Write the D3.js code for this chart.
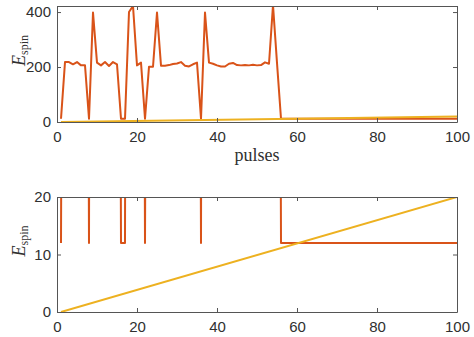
<!DOCTYPE html>
<html>
<head>
<meta charset="utf-8">
<script src="https://cdn.jsdelivr.net/npm/d3@7"></script>
<style>
  html, body { margin: 0; padding: 0; background: #fff; }
  svg { display: block; }
  .tick text { font-family: "Liberation Sans", Arial, sans-serif; font-size: 15px; fill: #303030; }
</style>
</head>
<body>
<div id="chart"></div>
<script>
// pulse numbers 1..100
const pulses = d3.range(1, 101);

// red series: spin energy per pulse
const spinEnergy = [
  12, 218, 218, 210, 218, 206, 206, 12, 398, 216,
  206, 218, 204, 218, 210, 12, 12, 400, 422, 206,
  216, 12, 201, 201, 398, 205, 205, 207, 211, 213,
  218, 205, 202, 210, 216, 12, 398, 216, 212, 206,
  202, 202, 212, 215, 207, 206, 207, 206, 208, 206,
  207, 217, 212, 425, 215, 12, 12, 12, 12, 12,
  12, 12, 12, 12, 12, 12, 12, 12, 12, 12,
  12, 12, 12, 12, 12, 12, 12, 12, 12, 12,
  12, 12, 12, 12, 12, 12, 12, 12, 12, 12,
  12, 12, 12, 12, 12, 12, 12, 12, 12, 12
];

// yellow series: straight line
const rampPulses = [1, 100];
const rampValues = [0, 20];

const xTicks = [0, 20, 40, 60, 80, 100];
const topYTicks = [0, 200, 400];
const bottomYTicks = [0, 10, 20];

const width = 474;
const height = 337;
const red = '#D95319';
const yellow = '#EDB120';
const axisColor = '#555555';

const svg = d3.select('#chart')
  .append('svg')
  .attr('width', width)
  .attr('height', height);

const redData = pulses.map((p, i) => ({x: p, y: spinEnergy[i]}));
const rampData = rampPulses.map((p, i) => ({x: p, y: rampValues[i]}));

function panel(id, box, yDomain, yTicks, showXLabel) {
  const x = d3.scaleLinear().domain([0, 100]).range([box.left, box.right]);
  const y = d3.scaleLinear().domain(yDomain).range([box.bottom, box.top]);

  svg.append('clipPath')
    .attr('id', id)
    .append('rect')
    .attr('x', box.left)
    .attr('y', box.top)
    .attr('width', box.right - box.left)
    .attr('height', box.bottom - box.top);

  const line = d3.line()
    .x(d => x(d.x))
    .y(d => y(d.y));

  const g = svg.append('g').attr('clip-path', 'url(#' + id + ')');
  g.append('path')
    .datum(redData)
    .attr('d', line)
    .attr('fill', 'none')
    .attr('stroke', red)
    .attr('stroke-width', 2)
    .attr('stroke-linejoin', 'round');
  g.append('path')
    .datum(rampData)
    .attr('d', line)
    .attr('fill', 'none')
    .attr('stroke', yellow)
    .attr('stroke-width', 2);

  // axes, ticks pointing inward (box on)
  const bottomAxis = svg.append('g')
    .attr('transform', 'translate(0,' + box.bottom + ')')
    .call(d3.axisBottom(x).tickValues(xTicks).tickSizeInner(-4).tickSizeOuter(0).tickPadding(9));
  const leftAxis = svg.append('g')
    .attr('transform', 'translate(' + box.left + ',0)')
    .call(d3.axisLeft(y).tickValues(yTicks).tickSizeInner(-4).tickSizeOuter(0).tickPadding(6));
  const topAxis = svg.append('g')
    .attr('transform', 'translate(0,' + box.top + ')')
    .call(d3.axisTop(x).tickValues(xTicks).tickSizeInner(-4).tickSizeOuter(0).tickFormat(''));
  const rightAxis = svg.append('g')
    .attr('transform', 'translate(' + box.right + ',0)')
    .call(d3.axisRight(y).tickValues(yTicks).tickSizeInner(-4).tickSizeOuter(0).tickFormat(''));

  [bottomAxis, leftAxis, topAxis, rightAxis].forEach(a => {
    a.selectAll('.domain').attr('stroke', axisColor).attr('stroke-width', 1);
    a.selectAll('.tick line').attr('stroke', axisColor).attr('stroke-width', 1);
  });

  // y label: E_spin
  const cy = (box.top + box.bottom) / 2;
  const lbl = svg.append('text')
    .attr('transform', 'translate(' + 25 + ',' + (cy + 2) + ') rotate(-90)')
    .attr('font-family', '"Liberation Serif", "DejaVu Serif", serif')
    .attr('fill', '#303030');
  lbl.append('tspan')
    .attr('font-style', 'italic')
    .attr('font-size', 18)
    .text('E');
  lbl.append('tspan')
    .attr('font-size', 12)
    .attr('dy', 3)
    .text('spin');

  if (showXLabel) {
    svg.append('text')
      .attr('x', (box.left + box.right) / 2)
      .attr('y', box.bottom + 39)
      .attr('text-anchor', 'middle')
      .attr('font-family', '"Liberation Serif", "DejaVu Serif", serif')
      .attr('font-size', 18)
      .attr('fill', '#303030')
      .text('pulses');
  }
}

panel('clipTop', {left: 57, right: 457, top: 6, bottom: 122}, [0, 422], topYTicks, true);
panel('clipBottom', {left: 57, right: 457, top: 197, bottom: 312}, [0, 20], bottomYTicks, false);
</script>
</body>
</html>
